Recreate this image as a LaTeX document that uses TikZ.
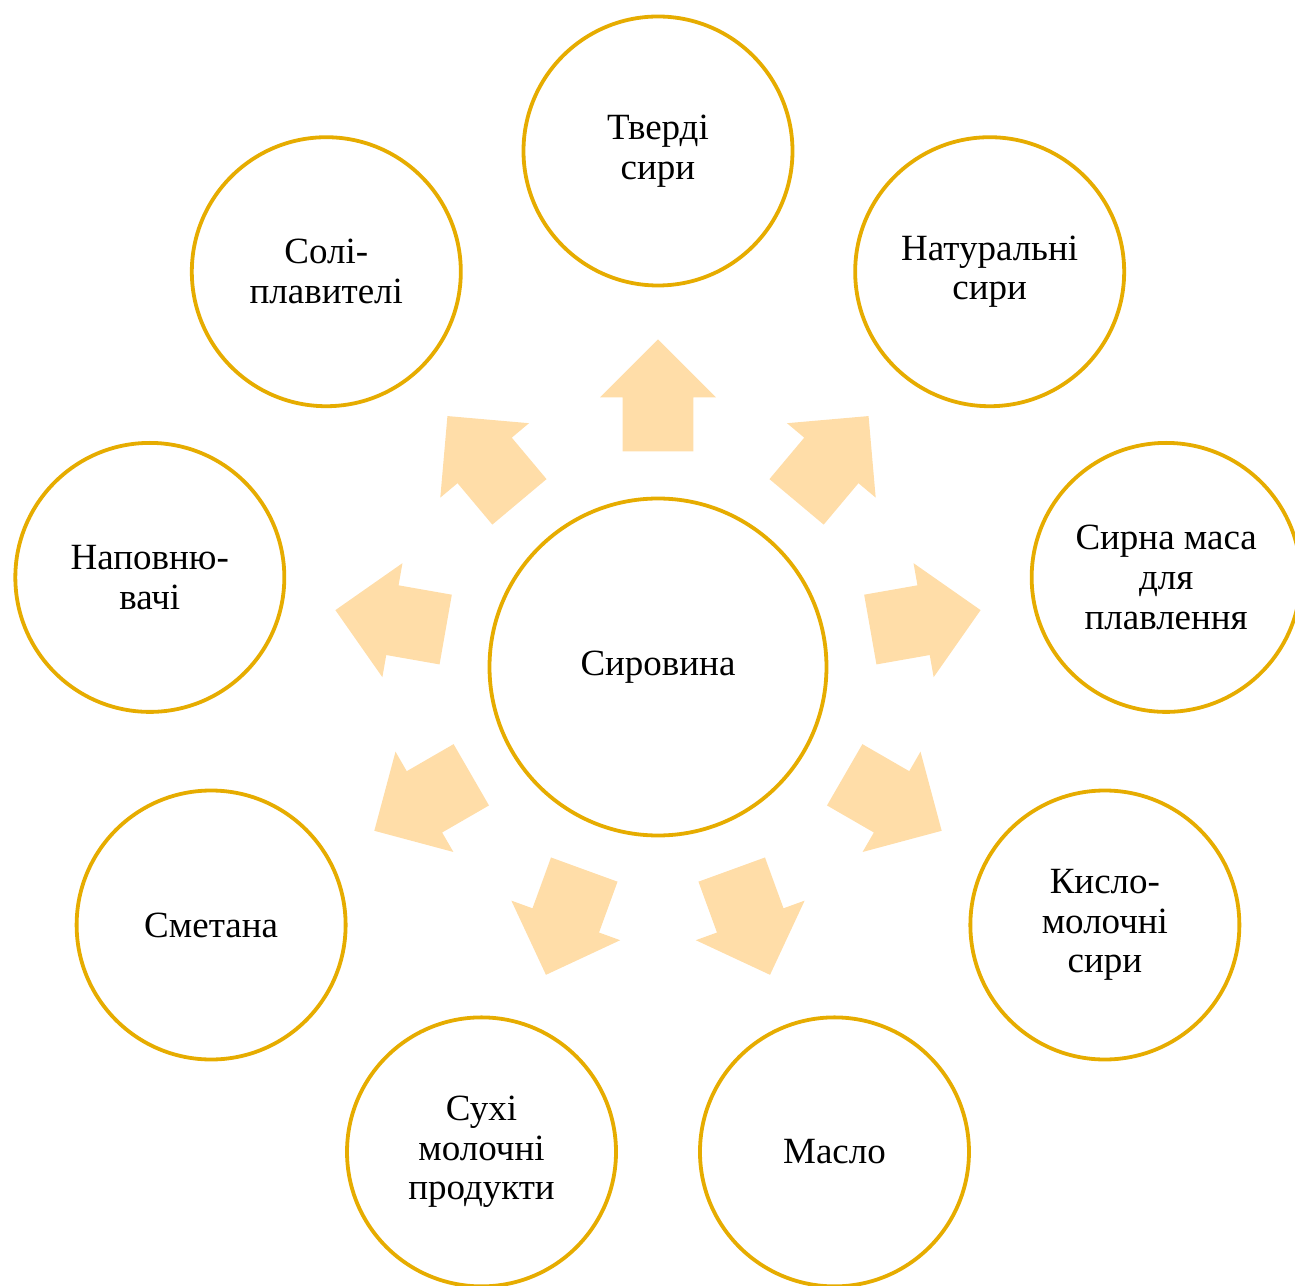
\documentclass[tikz,border=0pt]{standalone}
\usepackage{fontspec}
\setmainfont{Liberation Serif}
\usepackage{tikz}
\usetikzlibrary{positioning,calc,shapes.arrows}

\definecolor{ringgold}{RGB}{230,172,0}
\definecolor{arrowpeach}{RGB}{255,221,168}

\begin{document}
\begin{tikzpicture}[
  x=0.5pt, y=0.5pt,
  font=\fontsize{18.5}{19.8}\selectfont,
  src/.style={
    circle, draw=ringgold, line width=1.9pt, fill=white,
    minimum size=168.5pt, inner sep=0pt, align=center
  },
  prod/.style={
    circle, draw=ringgold, line width=1.9pt, fill=white,
    minimum size=134.5pt, inner sep=0pt, align=center
  },
  blk/.style={
    single arrow, fill=arrowpeach, draw=none, anchor=tail,
    inner xsep=0pt, inner ysep=17.5pt,
    minimum height=56pt,
    single arrow head extend=11.25pt
  }
]
\clip (-658,-618) rectangle (637,667);

% --- Raw material in the middle ---
\node[src] (raw) at (0,0) {Сировина};

% --- Products around it ---
\node[prod] (hard)    at (90:516)  {Тверді\\сири};
\node[prod] (natural) at (50:516)  {Натуральні\\сири};
\node[prod] (mass)    at (10:516)  {Сирна маса\\для\\плавлення};
\node[prod] (curd)    at (330:516) {Кисло-\\молочні\\сири};
\node[prod] (butter)  at (290:516) {Масло};
\node[prod] (dry)     at (250:516) {Сухі\\молочні\\продукти};
\node[prod] (cream)   at (210:516) {Сметана};
\node[prod] (filler)  at (170:516) {Наповню-\\вачі};
\node[prod] (salts)   at (130:516) {Солі-\\плавителі};

% --- Block arrows from the middle outwards ---
\node[blk, rotate=90]  (a1) at ($(raw)!0.417!(hard)$)    {};
\node[blk, rotate=50]  (a2) at ($(raw)!0.417!(natural)$) {};
\node[blk, rotate=10]  (a3) at ($(raw)!0.417!(mass)$)    {};
\node[blk, rotate=330] (a4) at ($(raw)!0.417!(curd)$)    {};
\node[blk, rotate=290] (a5) at ($(raw)!0.417!(butter)$)  {};
\node[blk, rotate=250] (a6) at ($(raw)!0.417!(dry)$)     {};
\node[blk, rotate=210] (a7) at ($(raw)!0.417!(cream)$)   {};
\node[blk, rotate=170] (a8) at ($(raw)!0.417!(filler)$)  {};
\node[blk, rotate=130] (a9) at ($(raw)!0.417!(salts)$)   {};

\end{tikzpicture}
\end{document}
